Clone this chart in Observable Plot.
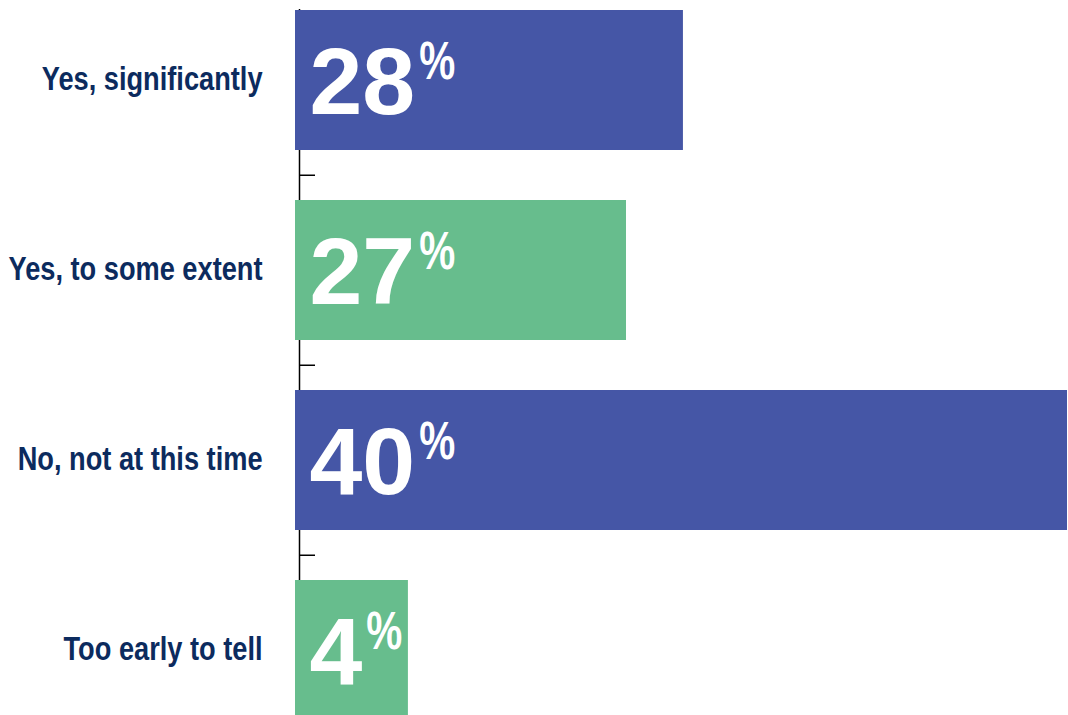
<!DOCTYPE html>
<html>
<head>
<meta charset="utf-8">
<script src="https://cdn.jsdelivr.net/npm/d3@7"></script>
<script src="https://cdn.jsdelivr.net/npm/@observablehq/plot@0.6"></script>
<style>
  html, body { margin: 0; padding: 0; background: #fff; overflow: hidden; }
  #chart svg { display: block; }
</style>
</head>
<body>
<div id="chart"></div>
<script>
// Categories and the percentages printed on the bars
const categories = ["Yes, significantly", "Yes, to some extent", "No, not at this time", "Too early to tell"];
const values = [28, 27, 40, 4];
// Bar extents as drawn in the reference (the original graphic does not draw them to scale)
const barExtents = [20.1, 17.15, 40, 5.85];

const data = categories.map((c, i) => ({category: c, value: values[i], extent: barExtents[i]}));

const BLUE = "#4556a6";
const GREEN = "#67bd8d";
const NAVY = "#0c2b5e";
const FONT = "'Liberation Sans', Arial, sans-serif";

const W = 1068, H = 715;
const mTop = 9, step = 190.5, padInner = 0.265;
const tickLen = 16 * 40 / 772; // tick length expressed on the x scale

const plot = Plot.plot({
  width: W,
  height: H,
  marginLeft: 295,
  marginRight: 1,
  marginTop: mTop,
  marginBottom: 0,
  x: {domain: [0, 40], axis: null},
  y: {domain: categories, range: [mTop, mTop + 4 * step - step * padInner], paddingInner: padInner, paddingOuter: 0, axis: null},
  color: {type: "identity"},
  marks: [
    Plot.ruleX([0], {dx: 4, stroke: "#000", strokeWidth: 1.5}),
    Plot.ruleY(categories.slice(1), {y: d => d, x1: 0, x2: tickLen, dx: 4, dy: -step / 2, stroke: "#000", strokeWidth: 1.5}),
    Plot.barX(data, {y: "category", x: "extent", fill: (d, i) => (i % 2 ? GREEN : BLUE)}),
    Plot.text(data, {
      y: "category", x: 0, dx: -33, dy: -1,
      text: "category", textAnchor: "end",
      fill: NAVY, fontSize: 34, fontWeight: "bold",
      fontFamily: FONT
    }),
    Plot.text(data, {
      y: "category", x: 0, dx: 14, dy: 3,
      text: d => String(d.value), textAnchor: "start",
      fill: "#fff", fontSize: 95, fontWeight: "bold",
      fontFamily: FONT
    })
  ]
});

document.getElementById("chart").appendChild(plot);

const svg = d3.select(plot);
// condense the category labels (the reference uses a bold condensed face)
svg.selectAll("text").filter(function () { return categories.includes(this.textContent); })
  .each(function () {
    const len = this.getComputedTextLength();
    this.setAttribute("textLength", (len * 0.80).toFixed(1));
    this.setAttribute("lengthAdjust", "spacingAndGlyphs");
  });

// add the raised percent sign after each number
svg.selectAll("text").filter(function () { return /^\d+$/.test(this.textContent); })
  .each(function () {
    d3.select(this).append("tspan")
      .attr("dx", 4)
      .attr("dy", -35)
      .attr("font-size", 54)
      .attr("textLength", 36)
      .attr("lengthAdjust", "spacingAndGlyphs")
      .text("%");
  });
</script>
</body>
</html>
